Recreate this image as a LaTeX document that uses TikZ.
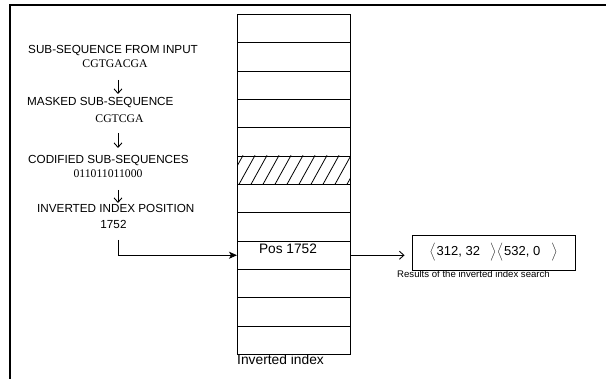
\documentclass[tikz,border=0pt]{standalone}
\usepackage{fontspec}
\setmainfont{Liberation Sans}
\newfontfamily\seqfont{Liberation Serif}
\usetikzlibrary{arrows.meta}
\begin{document}
\begin{tikzpicture}[x=1pt,y=-1pt,
  lbl/.style={inner sep=0pt, anchor=base west, font=\fontsize{11.7}{14}\selectfont},
  seq/.style={inner sep=0pt, anchor=base, font=\fontsize{11.7}{14}\selectfont\seqfont},
  val/.style={inner sep=0pt, anchor=base, font=\fontsize{11.7}{14}\selectfont},
  cell/.style={draw, line width=0.9pt, minimum width=113pt, minimum height=28.33pt, inner sep=0pt, anchor=north west},
  barb/.style={line width=0.9pt, -{Straight Barb[length=4.5pt,width=8pt]}},
  solidarr/.style={line width=0.9pt, -{Stealth[length=8pt,width=7pt,inset=2pt]}},
  frame/.style={line width=2pt}
]
\useasboundingbox (0,0) rectangle (606,379);
% frame
\draw[frame] (10,379) -- (10,5) -- (606,5);

% inverted index table
\foreach \i in {1,...,12}
  \node[cell] (r\i) at (237,{14+(\i-1)*28.33}) {};
\begin{scope}
  \clip (r6.north west) rectangle (r6.south east);
  \foreach \x in {215,227,...,360}
    \draw[line width=0.8pt] (\x,184.3) -- (\x+16,155.4);
\end{scope}
\node[inner sep=0pt, anchor=base, font=\fontsize{13.7}{16}\selectfont] (pos) at (288,254) {Pos 1752};
\node[inner sep=0pt, anchor=base west, font=\fontsize{13.8}{16}\selectfont] (iilbl) at (237,365) {Inverted index};

% left chain
\node[lbl] (t1) at (28,54) {SUB-SEQUENCE FROM INPUT};
\node[seq] (v1) at (115,68) {CGTGACGA};
\node[lbl] (t2) at (27,106) {MASKED SUB-SEQUENCE};
\node[seq] (v2) at (119.5,123) {CGTCGA};
\node[lbl] (t3) at (28,164) {CODIFIED SUB-SEQUENCES};
\node[seq] (v3) at (108,178) {011011011000};
\node[lbl] (t4) at (37,213) {INVERTED INDEX POSITION};
\node[val] (v4) at (113.5,228.2) {1752};

\coordinate (a1s) at (118,80);
\coordinate (a1e) at (118,94);
\coordinate (a2s) at (118,133);
\coordinate (a2e) at (118,148);
\coordinate (a3s) at (118,190);
\coordinate (a3e) at (118,203);
\draw[barb] (a1s) -- (a1e);
\draw[barb] (a2s) -- (a2e);
\draw[barb] (a3s) -- (a3e);

\coordinate (s4) at (118,240);
\draw[solidarr] (s4) |- (r9.west);

% results
\node[draw, line width=0.9pt, minimum width=163pt, minimum height=35pt, inner sep=0pt,
      font=\fontsize{13}{15}\selectfont] (res) at (493.5,252.5)
  {$\Big\langle$\hspace{1pt}312, 32\hspace{10pt}$\Big\rangle$\hspace{1pt}$\Big\langle$\hspace{1pt}532, 0\hspace{11pt}$\Big\rangle$};
\draw[barb] (r9.east) -- (r9.east -| res.west) [shorten >=7pt];
\node[inner sep=0pt, anchor=base west, font=\fontsize{9.6}{11}\selectfont] (cap) at (397,278) {Results of the inverted index search};
\end{tikzpicture}
\end{document}
